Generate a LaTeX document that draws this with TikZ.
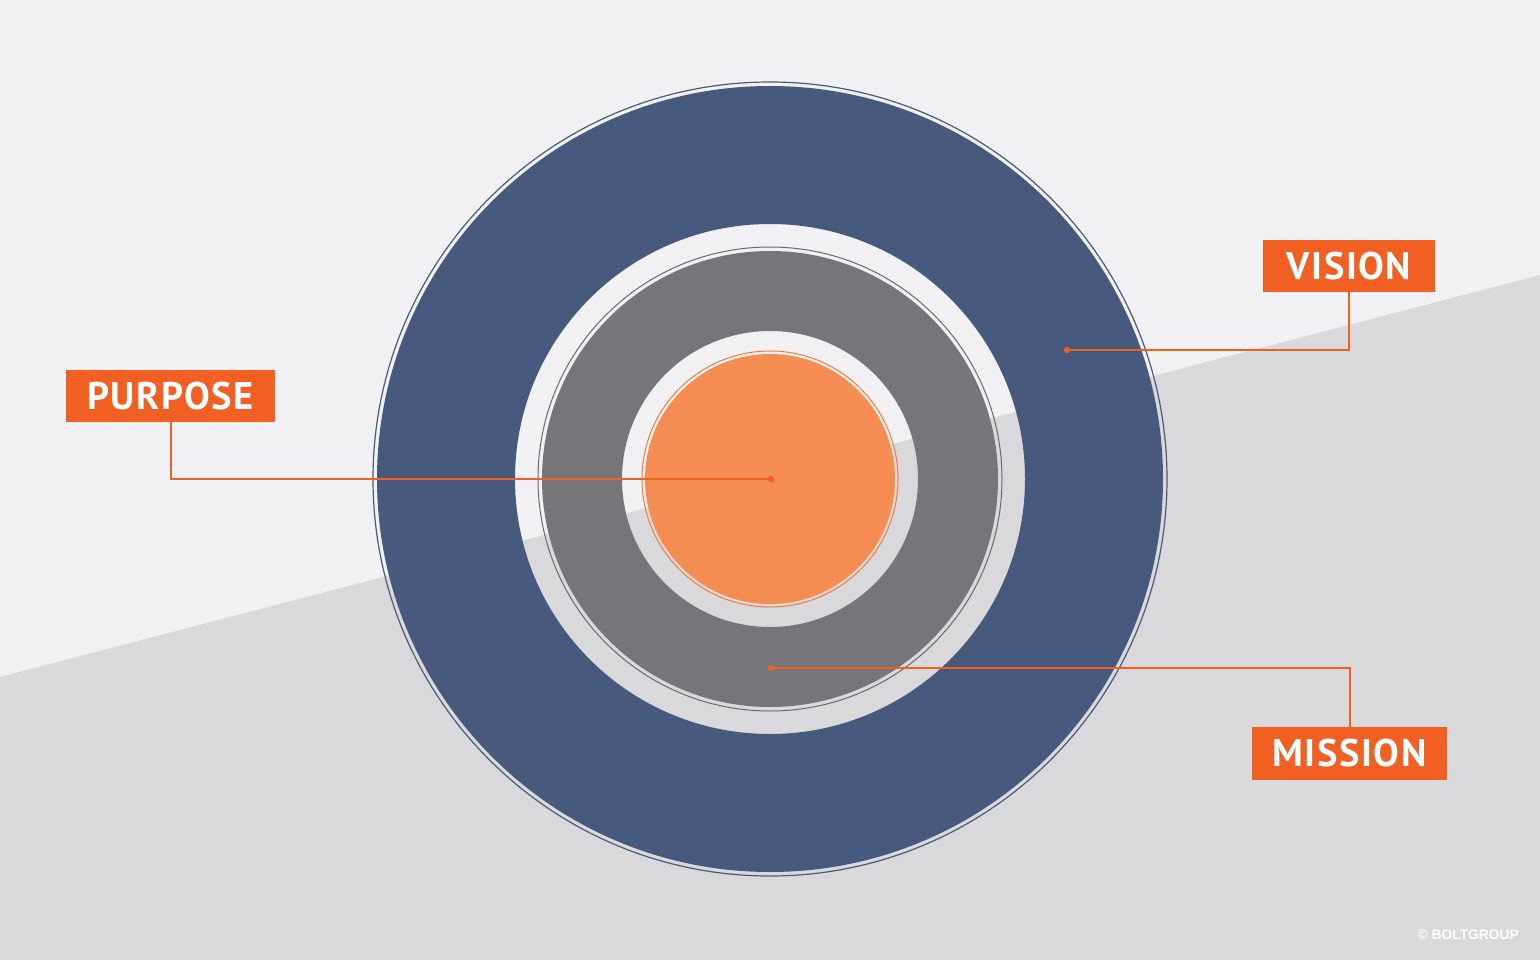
\documentclass[tikz,border=0pt]{standalone}
\usepackage{fontspec}
\setmainfont{PT Sans}
\newfontfamily\labelfont[LetterSpace=4.0]{PT Sans}
\newfontfamily\copyfont{Liberation Sans}
\definecolor{bgtop}{HTML}{F1F1F3}
\definecolor{bgbot}{HTML}{D9D9DB}
\definecolor{ringblue}{HTML}{475A7E}
\definecolor{blueline}{HTML}{4A5A7A}
\definecolor{ringgray}{HTML}{767579}
\definecolor{grayline}{HTML}{6A6A6E}
\definecolor{core}{HTML}{F58C52}
\definecolor{coreline}{HTML}{F47A3A}
\definecolor{tagorange}{HTML}{F15F22}
\tikzset{
  tag/.style={fill=tagorange, text=white, inner sep=0pt, minimum height=52,
    font=\labelfont\bfseries\fontsize{38.5}{38.5}\selectfont},
  conn/.style={draw=tagorange, line width=2},
  enddot/.style={fill=tagorange}
}
\begin{document}
\begin{tikzpicture}[x=1pt,y=-1pt]
\useasboundingbox (0,0) rectangle (1540,960);
% background
\fill[bgtop] (0,0) rectangle (1540,960);
\fill[bgbot] (0,677) -- (1540,275) -- (1540,960) -- (0,960) -- cycle;
% rings
\coordinate (c) at (770,479);
\draw[blueline, line width=1.2] (c) circle (397);
\fill[ringblue, even odd rule] (c) circle (393) (c) circle (255);
\draw[grayline, line width=1] (c) circle (232);
\fill[ringgray, even odd rule] (c) circle (228) (c) circle (148);
\draw[coreline, line width=1] (c) circle (128);
\fill[core] (c) circle (125);
% end points
\coordinate (vdot) at (1067,350);
\coordinate (pdot) at (771,479);
\coordinate (mdot) at (771,668);
% labels
\node[tag, minimum width=172] (vision) at (1349,266) {VISION};
\node[tag, minimum width=209] (purpose) at (170.5,396) {PURPOSE};
\node[tag, minimum width=195, minimum height=53] (mission) at (1349.5,753.5) {MISSION};
% connectors
\draw[conn] (vision.south) |- (vdot);
\draw[conn] (purpose.south) |- (pdot);
\draw[conn] (mission.north) |- (mdot);
\fill[enddot] (vdot) circle (3.2);
\fill[enddot] (pdot) circle (3.2);
\fill[enddot] (mdot) circle (3.2);
% copyright
\node[text=white, inner sep=0pt, anchor=east, font=\copyfont\bfseries\fontsize{13.8}{13.8}\selectfont] (copy) at (1519,935) {© BOLTGROUP};
\end{tikzpicture}
\end{document}
